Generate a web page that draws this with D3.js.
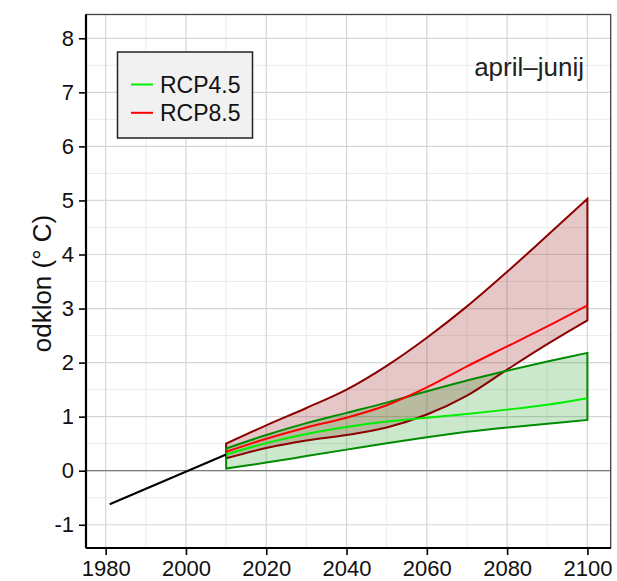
<!DOCTYPE html>
<html>
<head>
<meta charset="utf-8">
<script src="https://cdn.jsdelivr.net/npm/d3@7/dist/d3.min.js"></script>
<style>
  html, body { margin: 0; padding: 0; background: #fff; }
  svg { display: block; font-family: "Liberation Sans", Arial, Helvetica, sans-serif; }
</style>
</head>
<body>
<svg id="chart" width="617" height="581"></svg>
<script>
// Observed anomaly (trend line)
const histYears = [1981, 2010];
const histValues = [-0.62, 0.30];

// Scenario projections, decadal points
const years = [2010, 2020, 2030, 2040, 2050, 2060, 2070, 2080, 2090, 2100];
const rcp45Low  = [0.04, 0.15, 0.27, 0.39, 0.51, 0.62, 0.72, 0.80, 0.87, 0.94];
const rcp45Mid  = [0.30, 0.51, 0.68, 0.81, 0.91, 0.98, 1.05, 1.13, 1.22, 1.34];
const rcp45High = [0.41, 0.66, 0.88, 1.07, 1.26, 1.47, 1.67, 1.85, 2.02, 2.18];
const rcp85Low  = [0.23, 0.42, 0.56, 0.66, 0.80, 1.04, 1.39, 1.87, 2.34, 2.78];
const rcp85Mid  = [0.35, 0.59, 0.80, 0.98, 1.21, 1.54, 1.93, 2.30, 2.67, 3.06];
const rcp85High = [0.50, 0.84, 1.16, 1.50, 1.94, 2.46, 3.04, 3.68, 4.35, 5.03];

// Axis ticks
const xTicks = [1980, 2000, 2020, 2040, 2060, 2080, 2100];
const xMinor = [1990, 2010, 2030, 2050, 2070, 2090];
const yTicks = [-1, 0, 1, 2, 3, 4, 5, 6, 7, 8];
const yMinor = [-0.5, 0.5, 1.5, 2.5, 3.5, 4.5, 5.5, 6.5, 7.5];

const legendLabels = ["RCP4.5", "RCP8.5"];
const panelTitle = "april\u2013junij";
const yTitle = "odklon (\u00b0 C)";

(function () {
  const svg = d3.select("#chart");
  const pl = 86, pr = 610.7, pt = 14.5, pb = 548;

  const x = d3.scaleLinear().domain([1975.1, 2105.8]).range([pl, pr]);
  const y = d3.scaleLinear().domain([-1.43, 8.44]).range([pb, pt]);

  // Grid
  const grid = svg.append("g");
  grid.selectAll(".vmin").data(xMinor).join("line")
    .attr("x1", d => x(d)).attr("x2", d => x(d)).attr("y1", pt).attr("y2", pb)
    .attr("stroke", "#ececec").attr("stroke-width", 1);
  grid.selectAll(".hmin").data(yMinor).join("line")
    .attr("y1", d => y(d)).attr("y2", d => y(d)).attr("x1", pl).attr("x2", pr)
    .attr("stroke", "#ececec").attr("stroke-width", 1);
  grid.selectAll(".vmaj").data(xTicks).join("line")
    .attr("x1", d => x(d)).attr("x2", d => x(d)).attr("y1", pt).attr("y2", pb)
    .attr("stroke", "#d6d6d6").attr("stroke-width", 1.2);
  grid.selectAll(".hmaj").data(yTicks).join("line")
    .attr("y1", d => y(d)).attr("y2", d => y(d)).attr("x1", pl).attr("x2", pr)
    .attr("stroke", "#d6d6d6").attr("stroke-width", 1.2);

  // Zero reference line
  svg.append("line")
    .attr("x1", pl).attr("x2", pr).attr("y1", y(0)).attr("y2", y(0))
    .attr("stroke", "#7a7a7a").attr("stroke-width", 1.3);

  // Bands and median lines
  const curve = d3.curveCatmullRom.alpha(0.5);
  const band = (lo, hi) => d3.area()
    .x((d, i) => x(years[i]))
    .y0((d, i) => y(lo[i]))
    .y1((d, i) => y(hi[i]))
    .curve(curve)(years);
  const line = vals => d3.line()
    .x((d, i) => x(years[i]))
    .y((d, i) => y(vals[i]))
    .curve(curve)(years);

  svg.append("path").attr("d", band(rcp85Low, rcp85High))
    .attr("fill", "rgba(139,0,0,0.22)").attr("stroke", "none");
  svg.append("path").attr("d", band(rcp45Low, rcp45High))
    .attr("fill", "rgba(0,139,0,0.2)").attr("stroke", "none");

  svg.append("path").attr("d", band(rcp85Low, rcp85High))
    .attr("fill", "none").attr("stroke", "#8b0000").attr("stroke-width", 2);
  svg.append("path").attr("d", band(rcp45Low, rcp45High))
    .attr("fill", "none").attr("stroke", "#008b00").attr("stroke-width", 2);

  svg.append("path").attr("d", line(rcp45Mid))
    .attr("fill", "none").attr("stroke", "#00ee00").attr("stroke-width", 2);
  svg.append("path").attr("d", line(rcp85Mid))
    .attr("fill", "none").attr("stroke", "#ff0000").attr("stroke-width", 2);

  // Observed trend
  svg.append("path")
    .attr("d", d3.line().x(d => x(d)).y((d, i) => y(histValues[i]))(histYears))
    .attr("fill", "none").attr("stroke", "#000").attr("stroke-width", 2);

  // Frame
  svg.append("rect")
    .attr("x", pl).attr("y", pt).attr("width", pr - pl).attr("height", pb - pt)
    .attr("fill", "none").attr("stroke", "#444").attr("stroke-width", 1.3);

  // Axes (hyphen-minus for negative labels)
  const fmt = d => String(d);
  const xAxis = svg.append("g").attr("transform", `translate(0,${pb})`)
    .call(d3.axisBottom(x).tickValues(xTicks).tickFormat(fmt).tickSize(7).tickPadding(5));
  const yAxis = svg.append("g").attr("transform", `translate(${pl},0)`)
    .call(d3.axisLeft(y).tickValues(yTicks).tickFormat(fmt).tickSize(7).tickPadding(5));
  [xAxis, yAxis].forEach(g => {
    g.select(".domain").attr("stroke", "#000").attr("stroke-width", 2.2);
    g.selectAll(".tick line").attr("stroke", "#000").attr("stroke-width", 1.6);
    g.selectAll(".tick text").attr("fill", "#111")
      .attr("font-family", "Liberation Sans, Arial, sans-serif").attr("font-size", 22);
  });
  xAxis.select(".domain").attr("d", `M${pl},0H${pr}`);
  yAxis.select(".domain").attr("d", `M0,${pb}V${pt}`);

  // Axis title
  svg.append("text")
    .attr("transform", `translate(42,283.5) rotate(-90)`)
    .attr("text-anchor", "middle")
    .attr("dy", "0.35em")
    .attr("font-size", 26)
    .attr("fill", "#111")
    .text(yTitle);

  // Panel title
  svg.append("text")
    .attr("x", 584).attr("y", 76)
    .attr("text-anchor", "end")
    .attr("font-size", 26)
    .attr("fill", "#222")
    .text(panelTitle);

  // Legend
  const legend = svg.append("g");
  legend.append("rect")
    .attr("x", 117.5).attr("y", 52).attr("width", 135).attr("height", 86)
    .attr("fill", "#f1f1f1").attr("stroke", "#222").attr("stroke-width", 1.5);
  const legendColors = ["#00ee00", "#ff0000"];
  legendLabels.forEach((lab, i) => {
    const ly = 84.5 + i * 28.3;
    legend.append("line")
      .attr("x1", 131).attr("x2", 153).attr("y1", ly).attr("y2", ly)
      .attr("stroke", legendColors[i]).attr("stroke-width", 2);
    legend.append("text")
      .attr("x", 160).attr("y", ly).attr("dy", "0.36em")
      .attr("font-size", 23).attr("fill", "#111")
      .text(lab);
  });
})();
</script>
</body>
</html>
